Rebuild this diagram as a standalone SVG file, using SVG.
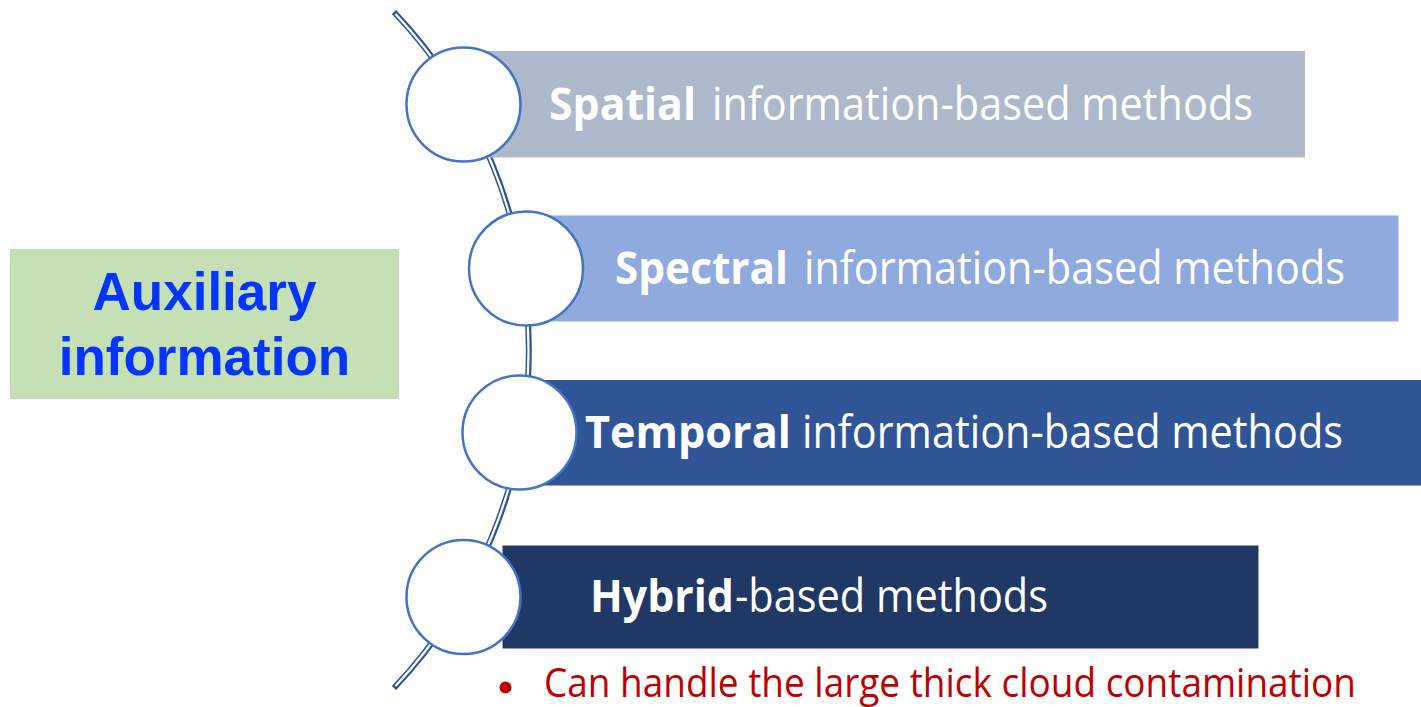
<svg xmlns="http://www.w3.org/2000/svg" width="1421" height="707" viewBox="0 0 1421 707">
<defs>
<style>
.ring{fill:#ffffff;stroke:#4472c4;stroke-width:2.5}
.lbl{font-family:"Open Sans","Noto Sans",sans-serif;font-size:45px;fill:#ffffff}
.b{font-weight:bold}
.aux{font-family:"Liberation Sans",Arial,sans-serif;font-size:53px;font-weight:bold;fill:#0535fa;text-anchor:middle}
.note{font-family:"Open Sans","Noto Sans",sans-serif;font-size:40px;fill:#c00000}
</style>
</defs>
<rect width="1421" height="707" fill="#ffffff"/>
<g id="connectors">
<path d="M394,12 A491,491 0 0 1 394,688" fill="none" stroke="#2f5597" stroke-width="6"/>
<path d="M395.5,14 A491,491 0 0 1 395.5,686" fill="none" stroke="#ffffff" stroke-width="2.2"/>
</g>
<g id="auxiliary">
<rect x="10" y="249" width="389" height="150" fill="#c5e0b4"/>
<text class="aux" x="204.5" y="310">Auxiliary</text>
<text class="aux" x="204.5" y="375">information</text>
</g>
<g id="spatial">
<rect x="463" y="51" width="842" height="106.5" fill="#adb9ca"/>
<circle class="ring" cx="463.5" cy="104.5" r="57"/>
<text class="lbl" y="120"><tspan class="b" x="549" textLength="147" lengthAdjust="spacingAndGlyphs">Spatial</tspan><tspan x="712" textLength="541" lengthAdjust="spacingAndGlyphs">information-based methods</tspan></text>
</g>
<g id="spectral">
<rect x="526" y="215.5" width="872.5" height="106" fill="#8faadc"/>
<circle class="ring" cx="526" cy="268.5" r="57"/>
<text class="lbl" y="284"><tspan class="b" x="615" textLength="173" lengthAdjust="spacingAndGlyphs">Spectral</tspan><tspan x="804" textLength="541" lengthAdjust="spacingAndGlyphs">information-based methods</tspan></text>
</g>
<g id="temporal">
<rect x="519" y="380" width="902" height="105.5" fill="#2f5597"/>
<circle class="ring" cx="519.5" cy="432.5" r="57"/>
<text class="lbl" y="448"><tspan class="b" x="585" textLength="206" lengthAdjust="spacingAndGlyphs">Temporal</tspan><tspan x="802" textLength="541" lengthAdjust="spacingAndGlyphs">information-based methods</tspan></text>
</g>
<g id="hybrid">
<rect x="502.5" y="545.5" width="756" height="103" fill="#203864"/>
<circle class="ring" cx="463.5" cy="597" r="57"/>
<text class="lbl" y="612"><tspan class="b" x="590" textLength="144" lengthAdjust="spacingAndGlyphs">Hybrid</tspan><tspan x="735" textLength="313" lengthAdjust="spacingAndGlyphs">-based methods</tspan></text>
</g>
<g id="note">
<circle cx="505.5" cy="687.5" r="6" fill="#c00000"/>
<text class="note" x="544" y="697" textLength="812" lengthAdjust="spacingAndGlyphs">Can handle the large thick cloud contamination</text>
</g>
</svg>
